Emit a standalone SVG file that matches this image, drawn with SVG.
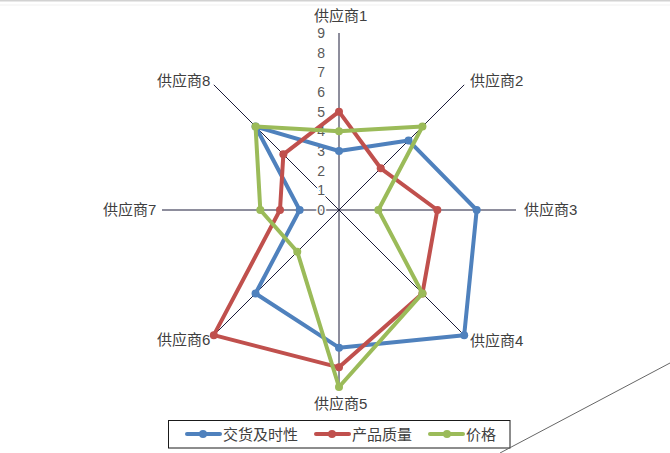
<svg xmlns="http://www.w3.org/2000/svg" width="670" height="453" viewBox="0 0 670 453">
<style>
.lbl{font-family:"Liberation Sans","Noto Sans CJK SC",sans-serif;font-size:15px;fill:#404040}
.tick{font-family:"Liberation Sans",sans-serif;font-size:14px;fill:#595959;text-anchor:end;stroke:#fff;stroke-width:3;paint-order:stroke}
.axis{stroke:#1c1c3a;stroke-width:1;fill:none}
.s{fill:none;stroke-width:4;stroke-linejoin:round;stroke-linecap:round}
.blue{stroke:#4F81BD}.red{stroke:#C0504D}.green{stroke:#9BBB59}
.mb{fill:#4F81BD}.mr{fill:#C0504D}.mg{fill:#9BBB59}
</style>
<rect width="670" height="453" fill="#fff"/>
<rect x="0" y="0" width="670" height="1.5" fill="#d2d2d2"/>
<rect x="0" y="4.5" width="670" height="1" fill="#f2f2f2"/>
<g id="axes">
<line class="axis" x1="339" y1="210" x2="339" y2="33"/>
<line class="axis" x1="339" y1="210" x2="464.2" y2="84.8"/>
<line class="axis" x1="339" y1="210" x2="516" y2="210"/>
<line class="axis" x1="339" y1="210" x2="464.2" y2="335.2"/>
<line class="axis" x1="339" y1="210" x2="339" y2="387"/>
<line class="axis" x1="339" y1="210" x2="213.8" y2="335.2"/>
<line class="axis" x1="339" y1="210" x2="162" y2="210"/>
<line class="axis" x1="339" y1="210" x2="213.8" y2="84.8"/>
</g>
<g id="ticks">
<text class="tick" x="325" y="215">0</text>
<text class="tick" x="325" y="195.3">1</text>
<text class="tick" x="325" y="175.7">2</text>
<text class="tick" x="325" y="156">3</text>
<text class="tick" x="325" y="136.3">4</text>
<text class="tick" x="325" y="116.7">5</text>
<text class="tick" x="325" y="97">6</text>
<text class="tick" x="325" y="77.3">7</text>
<text class="tick" x="325" y="57.7">8</text>
<text class="tick" x="325" y="38">9</text>
</g>
<g id="axis-labels">
<text class="lbl" x="314" y="21">供应商1</text>
<text class="lbl" x="470" y="86">供应商2</text>
<text class="lbl" x="524" y="215">供应商3</text>
<text class="lbl" x="470" y="346">供应商4</text>
<text class="lbl" x="314" y="409">供应商5</text>
<text class="lbl" x="157" y="345">供应商6</text>
<text class="lbl" x="103" y="215">供应商7</text>
<text class="lbl" x="157" y="86">供应商8</text>
</g>
<g id="series-delivery">
<polygon class="s blue" points="339,150.99 408.54,140.46 476.69,210 464.18,335.18 339,347.69 255.55,293.45 299.66,210 255.55,126.55"/>
<g class="mb">
<circle cx="339" cy="150.99" r="4"/><circle cx="408.54" cy="140.46" r="4"/><circle cx="476.69" cy="210" r="4"/><circle cx="464.18" cy="335.18" r="4"/><circle cx="339" cy="347.69" r="4"/><circle cx="255.55" cy="293.45" r="4"/><circle cx="299.66" cy="210" r="4"/><circle cx="255.55" cy="126.55" r="4"/>
</g>
</g>
<g id="series-quality">
<polygon class="s red" points="339,111.65 380.73,168.27 437.35,210 422.45,293.45 339,367.36 213.82,335.18 279.99,210 283.36,154.36"/>
<g class="mr">
<circle cx="339" cy="111.65" r="4"/><circle cx="380.73" cy="168.27" r="4"/><circle cx="437.35" cy="210" r="4"/><circle cx="422.45" cy="293.45" r="4"/><circle cx="339" cy="367.36" r="4"/><circle cx="213.82" cy="335.18" r="4"/><circle cx="279.99" cy="210" r="4"/><circle cx="283.36" cy="154.36" r="4"/>
</g>
</g>
<g id="series-price">
<polygon class="s green" points="339,131.32 422.45,126.55 378.34,210 422.45,293.45 339,387.03 297.27,251.73 260.32,210 255.55,126.55"/>
<g class="mg">
<circle cx="339" cy="131.32" r="4"/><circle cx="422.45" cy="126.55" r="4"/><circle cx="378.34" cy="210" r="4"/><circle cx="422.45" cy="293.45" r="4"/><circle cx="339" cy="387.03" r="4"/><circle cx="297.27" cy="251.73" r="4"/><circle cx="260.32" cy="210" r="4"/><circle cx="255.55" cy="126.55" r="4"/>
</g>
</g>
<g id="legend">
<rect x="168.5" y="420.5" width="341.5" height="27.5" fill="#fff" stroke="#1a1a1a" stroke-width="1"/>
<line class="s blue" x1="187" y1="434" x2="220" y2="434"/><circle class="mb" cx="203" cy="434" r="4"/>
<text class="lbl" x="223" y="439.5">交货及时性</text>
<line class="s red" x1="316" y1="434" x2="349" y2="434"/><circle class="mr" cx="332" cy="434" r="4"/>
<text class="lbl" x="352" y="439.5">产品质量</text>
<line class="s green" x1="430" y1="434" x2="463" y2="434"/><circle class="mg" cx="447" cy="434" r="4"/>
<text class="lbl" x="466" y="439.5">价格</text>
</g>
<line x1="500" y1="453" x2="670" y2="363" stroke="#666" stroke-width="1"/>
</svg>
